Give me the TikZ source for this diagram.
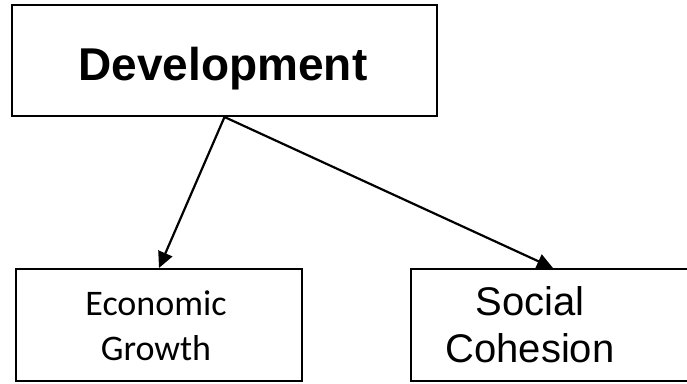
\documentclass[tikz,border=0pt]{standalone}
\usepackage{fontspec}
\setmainfont{Liberation Sans}
\newfontfamily\calibrifont{Carlito}
\usetikzlibrary{arrows.meta}
\begin{document}
\begin{tikzpicture}[x=1pt,y=-1pt,
  box/.style={draw, line width=2pt, inner sep=0pt},
  arr/.style={-{Triangle[length=16pt,width=15pt]}, line width=2.2pt},
  lbl/.style={anchor=base, inner sep=0pt}]
\useasboundingbox (0,0) rectangle (687,383);
\fill[white] (0,0) rectangle (687,383);
\node[box, minimum width=425pt, minimum height=111pt] (dev) at (224.5,60.5) {};
\node[box, minimum width=286pt, minimum height=112pt] (eg) at (159,325) {};
\node[box, minimum width=284pt, minimum height=112pt] (sc) at (553,325) {};
\node[lbl, font=\bfseries\fontsize{46}{55}\selectfont] (devt) at (223,80) {Development};
\node[lbl, font=\calibrifont\fontsize{36}{44}\selectfont] (egt1) at (156,315) {Economic};
\node[lbl, font=\calibrifont\fontsize{36}{44}\selectfont] (egt2) at (156,360) {Growth};
\node[lbl, font=\fontsize{40}{47}\selectfont] (sct1) at (530,315) {Social};
\node[lbl, font=\fontsize{40}{47}\selectfont] (sct2) at (530,362) {Cohesion};
\draw[arr] (dev.south) -- (eg.north);
\draw[arr] (dev.south) -- (sc.north);
\end{tikzpicture}
\end{document}
